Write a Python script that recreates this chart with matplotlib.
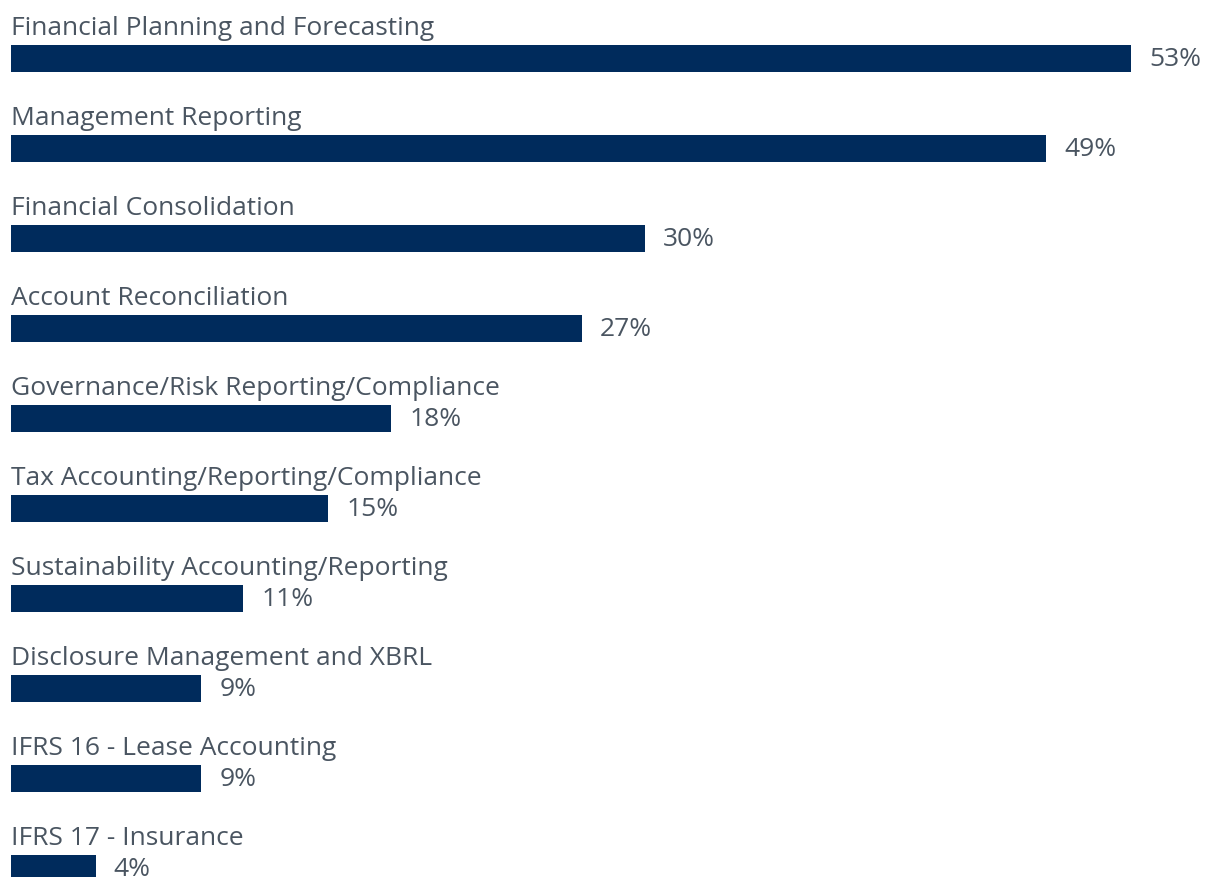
import matplotlib.pyplot as plt

categories = [
    "Financial Planning and Forecasting",
    "Management Reporting",
    "Financial Consolidation",
    "Account Reconciliation",
    "Governance/Risk Reporting/Compliance",
    "Tax Accounting/Reporting/Compliance",
    "Sustainability Accounting/Reporting",
    "Disclosure Management and XBRL",
    "IFRS 16 - Lease Accounting",
    "IFRS 17 - Insurance",
]
values = [53, 49, 30, 27, 18, 15, 11, 9, 9, 4]

bar_color = "#002B5C"
text_color = "#4A5561"

plt.rcParams["font.family"] = ["Open Sans", "DejaVu Sans"]

fig = plt.figure(figsize=(12.05, 8.77), dpi=100)
ax = fig.add_axes([0, 0, 1, 1])

# bars start 11px from the left edge, 90px per row
px_per_unit = 21.13
ax.set_xlim(-11 / px_per_unit, (1205 - 11) / px_per_unit)
ax.set_ylim((877 - 58.5) / 90, -58.5 / 90)

rows = range(len(categories))
ax.barh(rows, values, height=0.3, color=bar_color, align="center")

for i, (cat, val) in enumerate(zip(categories, values)):
    ax.text(0.0, i - 0.26, cat, fontsize=19, color=text_color,
            va="baseline", ha="left")
    ax.annotate(f"{val}%", xy=(val, i), xytext=(13.2, -0.5),
                textcoords="offset points", fontsize=19, color=text_color,
                va="center", ha="left")

ax.axis("off")
fig.savefig("out.png", dpi=100)
